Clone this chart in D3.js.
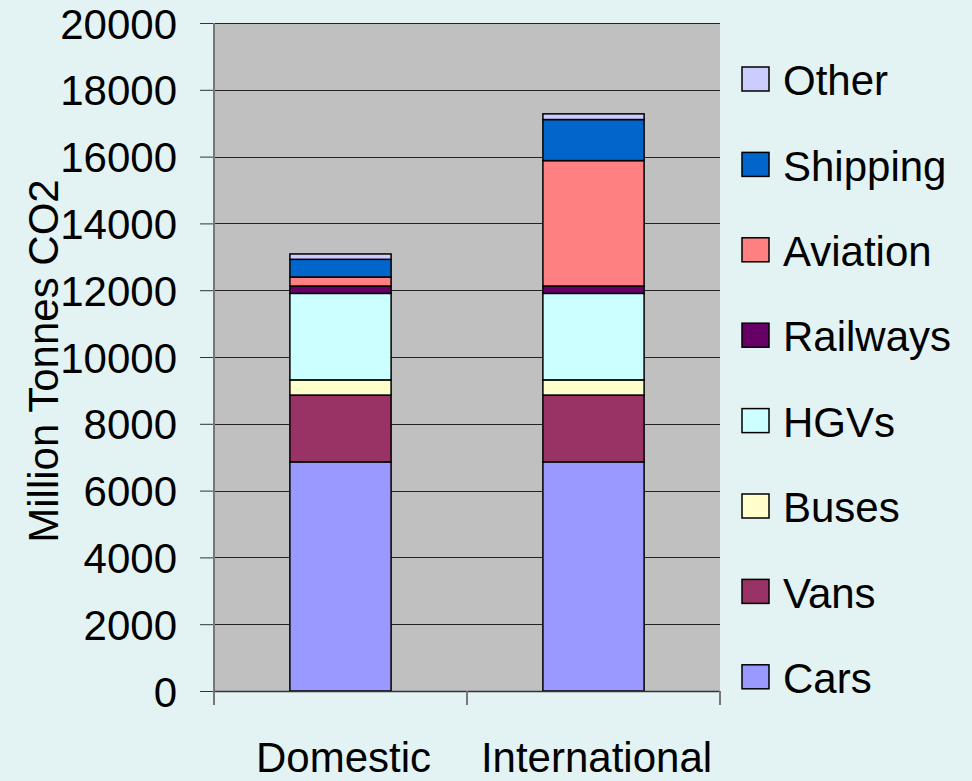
<!DOCTYPE html>
<meta charset="utf-8">
<html>
<head>
  <style>
    body { margin: 0; background: #e3f2f2; }
    svg { display: block; font-family: "Liberation Sans", Arial, sans-serif; }
    .tick text { font-size: 42px; fill: #000; }
  </style>
</head>
<body>
<svg width="972" height="781"></svg>

<script src="https://d3js.org/d3.v7.min.js"></script>
<script>

// Data (Million Tonnes CO2)
const categories = ["Domestic", "International"];
const series = ["Cars", "Vans", "Buses", "HGVs", "Railways", "Aviation", "Shipping", "Other"];
const cars     = [6860, 6860];
const vans     = [2000, 2000];
const buses    = [455, 455];
const hgvs     = [2590, 2590];
const railways = [220, 220];
const aviation = [270, 3755];
const shipping = [530, 1230];
const other    = [160, 170];
const colors = ["#9999ff", "#993366", "#ffffcc", "#ccffff", "#660066", "#ff8080", "#0066cc", "#ccccff"];
const yTicks = [0, 2000, 4000, 6000, 8000, 10000, 12000, 14000, 16000, 18000, 20000];

const values = [cars, vans, buses, hgvs, railways, aviation, shipping, other];
const rows = categories.map((c, i) => {
  const r = { category: c };
  series.forEach((s, j) => r[s] = values[j][i]);
  return r;
});

const svg = d3.select("svg");
const width = 972, height = 781;
svg.append("rect").attr("width", width).attr("height", height).attr("fill", "#e3f2f2");

// plot area
const pLeft = 214, pRight = 720, pTop = 23, pBottom = 691;

const x = d3.scaleBand().domain(categories).range([pLeft, pRight]).paddingInner(0.6).paddingOuter(0.3);
const xb = d3.scaleBand().domain(categories).range([pLeft, pRight]);
const y = d3.scaleLinear().domain([0, 20000]).range([pBottom, pTop]);

svg.append("rect")
  .attr("x", pLeft).attr("y", pTop)
  .attr("width", pRight - pLeft).attr("height", pBottom - pTop)
  .attr("fill", "#c0c0c0");

// gridlines
svg.append("g")
  .selectAll("line")
  .data(yTicks.filter(d => d > 0))
  .join("line")
  .attr("x1", pLeft).attr("x2", pRight)
  .attr("y1", d => Math.round(y(d)) + 0.5).attr("y2", d => Math.round(y(d)) + 0.5)
  .attr("stroke", "#222").attr("stroke-width", 1);

// stacked bars
const stack = d3.stack().keys(series)(rows);
svg.append("g")
  .selectAll("g")
  .data(stack)
  .join("g")
  .attr("fill", (d, i) => colors[i])
  .selectAll("rect")
  .data(d => d)
  .join("rect")
  .attr("x", d => x(d.data.category))
  .attr("width", x.bandwidth())
  .attr("y", d => y(d[1]))
  .attr("height", d => y(d[0]) - y(d[1]))
  .attr("stroke", "#000")
  .attr("stroke-width", 1.5);

// y axis
const yAxis = svg.append("g")
  .attr("transform", `translate(${pLeft},0)`)
  .call(d3.axisLeft(y).tickValues(yTicks).tickSize(14).tickPadding(23).tickFormat(d3.format("d")));
yAxis.select(".domain").remove();
yAxis.selectAll(".tick line").attr("stroke", "#333");
yAxis.selectAll(".tick text").attr("dy", "0.36em");
svg.append("line")
  .attr("x1", pLeft).attr("x2", pLeft).attr("y1", pTop).attr("y2", pBottom + 14)
  .attr("stroke", "#777").attr("stroke-width", 2);

// x axis
svg.append("line")
  .attr("x1", pLeft).attr("x2", pRight).attr("y1", pBottom + 0.5).attr("y2", pBottom + 0.5)
  .attr("stroke", "#333").attr("stroke-width", 1.5);
svg.append("g")
  .selectAll("line")
  .data([...categories.map(c => xb(c)), pRight])
  .join("line")
  .attr("x1", d => d).attr("x2", d => d)
  .attr("y1", pBottom).attr("y2", pBottom + 14)
  .attr("stroke", "#777").attr("stroke-width", 2);
svg.append("g")
  .selectAll("text")
  .data(categories)
  .join("text")
  .attr("x", d => xb(d) + xb.bandwidth() / 2 + 3)
  .attr("y", 772)
  .attr("text-anchor", "middle")
  .attr("font-size", 42)
  .text(d => d);

// y axis title
svg.append("text")
  .attr("transform", "translate(58,361) rotate(-90)")
  .attr("text-anchor", "middle")
  .attr("font-size", 42)
  .text("Million Tonnes CO2");

// legend (top to bottom: Other ... Cars)
const legendOrder = series.slice().reverse();
const legend = svg.append("g")
  .selectAll("g")
  .data(legendOrder)
  .join("g")
  .attr("transform", (d, i) => `translate(742,${80 + i * 85.4})`);
legend.append("rect")
  .attr("x", 0).attr("y", -13)
  .attr("width", 27).attr("height", 24)
  .attr("fill", d => colors[series.indexOf(d)])
  .attr("stroke", "#000").attr("stroke-width", 1.5);
legend.append("text")
  .attr("x", 41).attr("y", 0)
  .attr("dy", "0.36em")
  .attr("font-size", 42)
  .text(d => d);

</script>
</body>
</html>
